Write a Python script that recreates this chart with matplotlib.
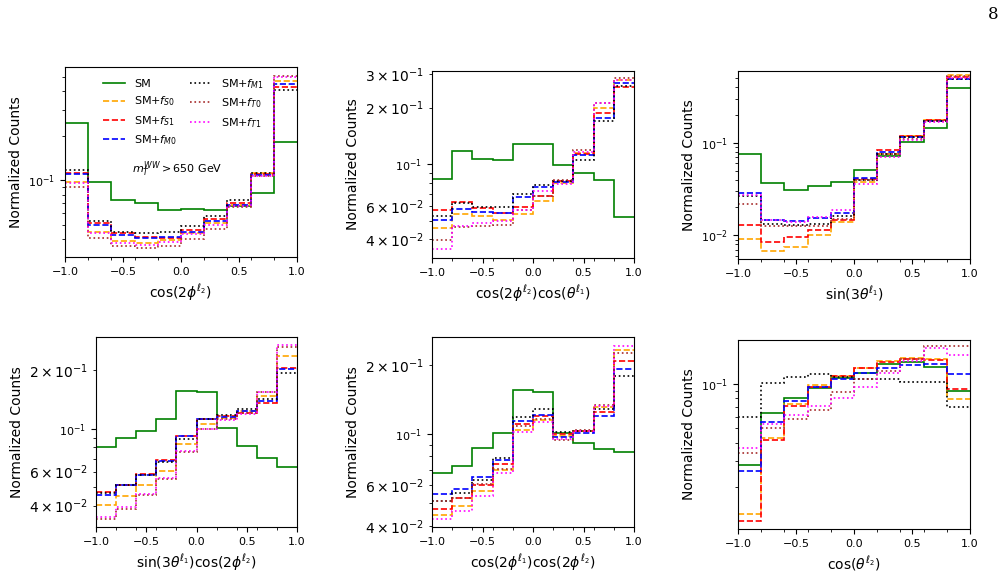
import matplotlib
matplotlib.use("Agg")
import matplotlib.pyplot as plt

# bin edges shared by every histogram
edges = [-1.0, -0.8, -0.6, -0.4, -0.2, 0.0, 0.2, 0.4, 0.6, 0.8, 1.0]

samples = ["SM", "S0", "S1", "M0", "M1", "T0", "T1"]

# cos(2 phi^l2)
p1 = {
    "SM": [0.243, 0.0975, 0.0734, 0.0705, 0.063, 0.0636, 0.0626, 0.067, 0.0814, 0.181],
    "S0": [0.097, 0.045, 0.0386, 0.0376, 0.0395, 0.0439, 0.0518, 0.0684, 0.112, 0.469],
    "S1": [0.112, 0.0512, 0.0439, 0.0414, 0.041, 0.0462, 0.0545, 0.0698, 0.110, 0.427],
    "M0": [0.111, 0.0502, 0.0428, 0.041, 0.0414, 0.045, 0.0531, 0.068, 0.108, 0.446],
    "M1": [0.118, 0.0531, 0.0444, 0.0439, 0.0444, 0.0491, 0.0573, 0.0731, 0.112, 0.406],
    "T0": [0.0897, 0.041, 0.0357, 0.0348, 0.0357, 0.040, 0.0467, 0.0656, 0.106, 0.505],
    "T1": [0.0951, 0.0437, 0.0375, 0.0365, 0.038, 0.0432, 0.0499, 0.0665, 0.106, 0.50],
}
# cos(2 phi^l2) cos(theta^l1)
p2 = {
    "SM": [0.0842, 0.118, 0.107, 0.106, 0.129, 0.129, 0.0992, 0.0896, 0.0825, 0.0527],
    "S0": [0.046, 0.0548, 0.0531, 0.0506, 0.0548, 0.0638, 0.0799, 0.115, 0.200, 0.281],
    "S1": [0.0572, 0.0634, 0.0589, 0.0554, 0.0596, 0.068, 0.0815, 0.114, 0.187, 0.256],
    "M0": [0.0506, 0.0577, 0.0558, 0.0554, 0.0674, 0.076, 0.0805, 0.112, 0.177, 0.269],
    "M1": [0.0535, 0.0621, 0.0593, 0.0593, 0.070, 0.0776, 0.0815, 0.106, 0.170, 0.261],
    "T0": [0.0399, 0.0467, 0.047, 0.0475, 0.0572, 0.068, 0.0822, 0.120, 0.213, 0.286],
    "T1": [0.0356, 0.047, 0.049, 0.050, 0.0572, 0.0721, 0.0792, 0.117, 0.213, 0.281],
}
# sin(3 theta^l1)
p3 = {
    "SM": [0.076, 0.0369, 0.0312, 0.0345, 0.0381, 0.0505, 0.0717, 0.1025, 0.145, 0.394],
    "S0": [0.0092, 0.00683, 0.00748, 0.010, 0.0138, 0.0378, 0.0748, 0.118, 0.175, 0.536],
    "S1": [0.0128, 0.0084, 0.0095, 0.0115, 0.0148, 0.0407, 0.0834, 0.118, 0.175, 0.514],
    "M0": [0.0287, 0.0148, 0.0142, 0.0154, 0.0175, 0.0418, 0.0792, 0.116, 0.172, 0.493],
    "M1": [0.0269, 0.0134, 0.0130, 0.0134, 0.016, 0.0401, 0.0766, 0.116, 0.172, 0.493],
    "T0": [0.0218, 0.0125, 0.0125, 0.0127, 0.0150, 0.0401, 0.076, 0.111, 0.172, 0.527],
    "T1": [0.0276, 0.0148, 0.0139, 0.0157, 0.0187, 0.0363, 0.0705, 0.107, 0.169, 0.506],
}
# sin(3 theta^l1) cos(2 phi^l2)
p4 = {
    "SM": [0.0803, 0.0891, 0.0973, 0.1127, 0.157, 0.154, 0.101, 0.0813, 0.0701, 0.0632],
    "S0": [0.0405, 0.0451, 0.051, 0.0603, 0.083, 0.106, 0.114, 0.124, 0.147, 0.238],
    "S1": [0.0471, 0.0514, 0.058, 0.0685, 0.0916, 0.112, 0.116, 0.120, 0.136, 0.206],
    "M0": [0.0456, 0.051, 0.0575, 0.068, 0.0911, 0.112, 0.115, 0.124, 0.139, 0.203],
    "M1": [0.0466, 0.051, 0.0573, 0.0675, 0.088, 0.112, 0.117, 0.127, 0.142, 0.195],
    "T0": [0.0341, 0.0386, 0.0456, 0.0546, 0.076, 0.0992, 0.112, 0.121, 0.154, 0.263],
    "T1": [0.0348, 0.0392, 0.0461, 0.0557, 0.0766, 0.100, 0.111, 0.119, 0.155, 0.271],
}
# cos(2 phi^l1) cos(2 phi^l2)
p5 = {
    "SM": [0.0677, 0.0729, 0.0869, 0.101, 0.155, 0.153, 0.101, 0.0914, 0.0861, 0.0838],
    "S0": [0.0447, 0.0485, 0.0564, 0.0695, 0.1044, 0.1154, 0.0983, 0.1034, 0.131, 0.231],
    "S1": [0.0474, 0.0528, 0.0603, 0.0743, 0.111, 0.120, 0.100, 0.1027, 0.125, 0.207],
    "M0": [0.0551, 0.058, 0.0649, 0.0774, 0.1135, 0.121, 0.097, 0.101, 0.120, 0.191],
    "M1": [0.051, 0.0554, 0.0634, 0.0787, 0.1185, 0.128, 0.102, 0.1027, 0.128, 0.179],
    "T0": [0.051, 0.0528, 0.0608, 0.0705, 0.108, 0.1166, 0.0945, 0.104, 0.134, 0.226],
    "T1": [0.0428, 0.0465, 0.054, 0.0677, 0.1017, 0.113, 0.095, 0.1034, 0.133, 0.242],
}
# cos(theta^l2)
p6 = {
    "SM": [0.0283, 0.0633, 0.0808, 0.0935, 0.1092, 0.118, 0.136, 0.1416, 0.131, 0.0897],
    "S0": [0.0131, 0.0433, 0.0728, 0.0985, 0.114, 0.129, 0.144, 0.151, 0.147, 0.0791],
    "S1": [0.0117, 0.0418, 0.071, 0.096, 0.113, 0.1276, 0.1416, 0.147, 0.1454, 0.0925],
    "M0": [0.0258, 0.0556, 0.0767, 0.095, 0.108, 0.118, 0.1276, 0.1345, 0.136, 0.1163],
    "M1": [0.0601, 0.101, 0.111, 0.1163, 0.112, 0.108, 0.108, 0.1037, 0.1037, 0.0695],
    "T0": [0.0339, 0.0501, 0.0577, 0.0667, 0.0887, 0.1075, 0.123, 0.147, 0.181, 0.181],
    "T1": [0.0367, 0.0533, 0.0617, 0.071, 0.080, 0.095, 0.118, 0.143, 0.177, 0.157],
}

xlabels = [
    r"$\cos(2\phi^{\ell_2})$",
    r"$\cos(2\phi^{\ell_2})\cos(\theta^{\ell_1})$",
    r"$\sin(3\theta^{\ell_1})$",
    r"$\sin(3\theta^{\ell_1})\cos(2\phi^{\ell_2})$",
    r"$\cos(2\phi^{\ell_1})\cos(2\phi^{\ell_2})$",
    r"$\cos(\theta^{\ell_2})$",
]

labels = {
    "SM": "SM", "S0": r"SM+$f_{S0}$", "S1": r"SM+$f_{S1}$", "M0": r"SM+$f_{M0}$",
    "M1": r"SM+$f_{M1}$", "T0": r"SM+$f_{T0}$", "T1": r"SM+$f_{T1}$",
}
styles = {
    "SM": ("green", "-"), "S0": ("orange", "--"), "S1": ("red", "--"),
    "M0": ("blue", "--"), "M1": ("black", ":"), "T0": ("brown", ":"),
    "T1": ("magenta", ":"),
}

# axes boxes in pixels: left, top, right, bottom
boxes = [
    (65, 67, 297, 257), (432, 71, 634, 258), (738, 71, 970, 259),
    (96, 337, 297, 527), (432, 337, 634, 527), (738, 340, 970, 529),
]
ylims = [
    (0.0303, 0.582), (0.0319, 0.313), (0.00555, 0.597),
    (0.031, 0.298), (0.0395, 0.264), (0.0104, 0.199),
]

W, H = 1007, 578
fig = plt.figure(figsize=(W / 100, H / 100), dpi=100)

panels = [p1, p2, p3, p4, p5, p6]
for i, data in enumerate(panels):
    l, t, r, b = boxes[i]
    ax = fig.add_axes([l / W, (H - b) / H, (r - l) / W, (b - t) / H])
    for s in samples:
        c, ls = styles[s]
        ax.stairs(data[s], edges, baseline=None, color=c, linestyle=ls,
                  linewidth=1.2, label=labels[s])
    ax.set_yscale("log")
    ax.set_xlim(-1, 1)
    ax.set_ylim(*ylims[i])
    ax.set_xticks([-1.0, -0.5, 0.0, 0.5, 1.0])
    ax.set_xticks(edges, minor=True)
    # only major labels were shrunk, minor log labels keep the default size
    ax.tick_params(which="major", labelsize=8)
    ax.set_xlabel(xlabels[i], fontsize=10)
    ax.set_ylabel("Normalized Counts", fontsize=10)
    if i == 0:
        ax.legend(ncol=2, fontsize=8, frameon=False, loc="upper left",
                  bbox_to_anchor=(0.12, 1.0), columnspacing=1.2)
        ax.text(0.29, 0.46, r"$m_T^{WW} > 650$ GeV", fontsize=8,
                transform=ax.transAxes, va="center")

fig.text(0.986, 0.975, "8", family="DejaVu Serif", fontsize=12,
         ha="center", va="center")

fig.savefig("out.png", dpi=100)
